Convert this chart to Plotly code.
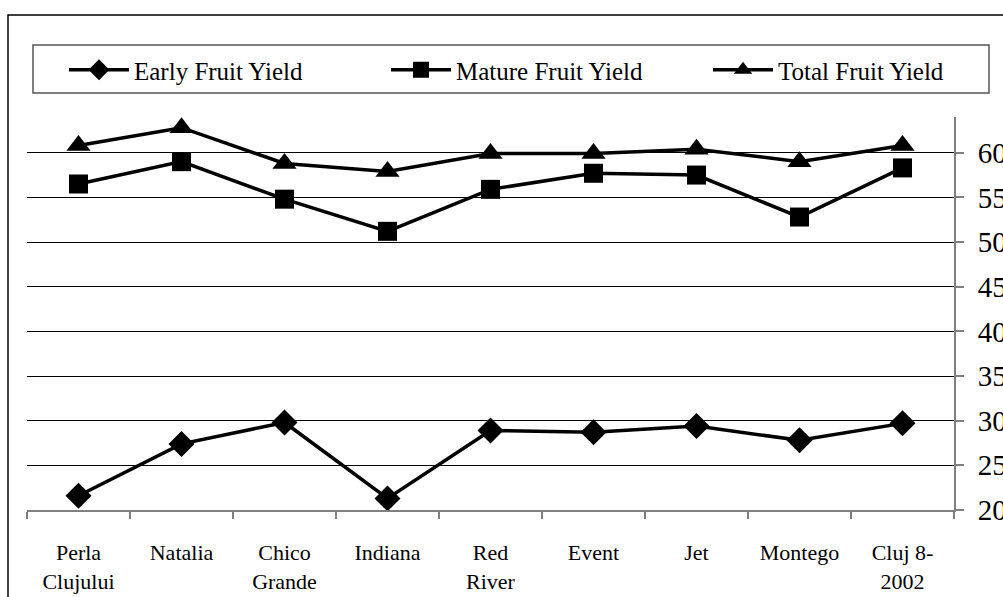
import plotly.graph_objects as go

categories = ["Perla<br>Clujului", "Natalia", "Chico<br>Grande", "Indiana", "Red<br>River",
              "Event", "Jet", "Montego", "Cluj 8-<br>2002"]
early = [21.6, 27.4, 29.8, 21.3, 28.9, 28.7, 29.4, 27.8, 29.7]
mature = [56.5, 59.0, 54.8, 51.2, 55.9, 57.7, 57.5, 52.8, 58.3]
total = [60.8, 62.8, 58.8, 57.9, 59.9, 59.9, 60.4, 59.0, 60.8]

series = [("Early Fruit Yield", early, "diamond", 20),
          ("Mature Fruit Yield", mature, "square", 19),
          ("Total Fruit Yield", total, "triangle-up", 21)]

FONT = '"Liberation Serif", "Times New Roman", Times, serif'
fig = go.Figure()
for name, vals, sym, sz in series:
    fig.add_trace(go.Scatter(x=categories, y=vals, name=name, mode="lines+markers",
                             line=dict(color="black", width=3.5),
                             marker=dict(symbol=sym, size=sz, color="black")))

W, H = 1003, 597
# target page-pixel positions of the plot area
PL, PR, PT, PB = 27, 954, 117, 510
L, R, T, B = PL, W - PR, PT, H - PB
pw, ph = W - L - R, H - T - B

def px_x(p):
    return (p - L) / pw

def px_y(p):
    return (H - B - p) / ph

fig.update_layout(
    width=W, height=H, margin=dict(l=L, r=R, t=T, b=B, autoexpand=False),
    paper_bgcolor="white", plot_bgcolor="white",
    font=dict(family=FONT, color="black", size=22),
    showlegend=True,
    legend=dict(orientation="h", x=px_x(1030), xanchor="right",
                y=px_y(70), yanchor="middle",
                borderwidth=0, bgcolor="rgba(0,0,0,0)",
                font=dict(family=FONT, size=25, color="black"),
                entrywidth=247, itemwidth=60, traceorder="normal"),
    xaxis=dict(type="category", tickson="boundaries", ticks="outside", ticklen=7,
               tickcolor="#808080", tickwidth=1.5, showline=True, linecolor="#808080",
               linewidth=2, showgrid=False, tickfont=dict(family=FONT, size=22),
               range=[-0.5, 8.5], fixedrange=True, ticklabelstandoff=22),
    yaxis=dict(side="right", range=[20, 64], dtick=5, tick0=20, ticks="outside", ticklen=8,
               tickcolor="#808080", tickwidth=1.5, showline=True, linecolor="#808080",
               linewidth=2, showgrid=True, gridcolor="black", gridwidth=1,
               tickfont=dict(family=FONT, size=29), zeroline=False,
               ticklabelstandoff=8),
    shapes=[dict(type="rect", xref="paper", yref="paper",
                 x0=px_x(8), x1=1.3, y0=-0.6, y1=px_y(15),
                 line=dict(color="black", width=1.5), layer="below"),
            dict(type="rect", xref="paper", yref="paper",
                 x0=px_x(33), x1=px_x(989), y0=px_y(93), y1=px_y(45),
                 line=dict(color="#555555", width=1.5), fillcolor="white", layer="below")],
)
fig.write_html("out.html", config={"displayModeBar": False},
               post_script="document.body.style.margin='0';document.body.style.overflow='hidden';")
